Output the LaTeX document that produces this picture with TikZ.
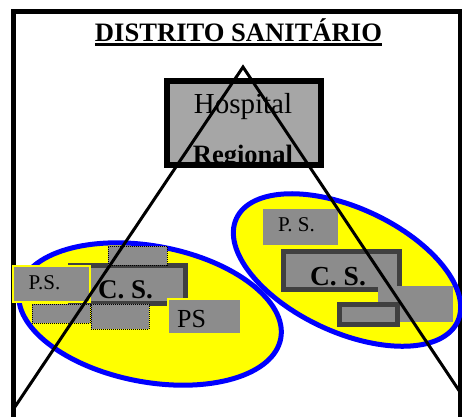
\documentclass[tikz,border=0pt]{standalone}
\usepackage{fontspec}
\setmainfont{Liberation Serif}
\usetikzlibrary{shapes.geometric}
\definecolor{boxgray}{RGB}{140,140,140}
\definecolor{hospgray}{RGB}{166,166,166}
\definecolor{darkb}{RGB}{64,64,64}
\definecolor{ellblue}{RGB}{0,0,255}
\definecolor{ellyellow}{RGB}{255,255,0}
\begin{document}
\begin{tikzpicture}[x=1pt,y=-1pt,
  frameline/.style={line width=4.7pt, line join=miter},
  zone/.style={ellipse, draw=ellblue, fill=ellyellow, line width=5pt, inner sep=0pt},
  graybox/.style={rectangle, fill=boxgray, inner sep=0pt},
  psbox/.style={graybox, draw=ellyellow, line width=2pt},
  csbox/.style={graybox, draw=darkb, line width=5pt},
  dotbox/.style={graybox, draw=black, line width=0.8pt, dash pattern=on 1pt off 1pt},
  hospbox/.style={rectangle, fill=hospgray, inner sep=0pt},
  tri/.style={line width=3pt, line join=miter},
  txt/.style={anchor=base, inner sep=0pt, text=black}
]
\useasboundingbox (0,0) rectangle (462,416);
\fill[white] (0,0) rectangle (462,416);

% frame
\coordinate (fbl) at (13.3,418);
\coordinate (ftl) at (13.3,11.7);
\coordinate (ftr) at (460.5,11.7);
\coordinate (fbr) at (460.5,418);
\draw[frameline] (fbl) -- (ftl) -- (ftr) -- (fbr);

% title
\node[txt, font=\bfseries\fontsize{26.6}{30}\selectfont] (title) at (238.5,41) {DISTRITO SANITÁRIO};
\draw[line width=2.4pt] ([yshift=-3.6pt]title.base west) -- ([yshift=-3.6pt]title.base east);

% zones
\node[zone, minimum width=266pt, minimum height=136pt, rotate=-10.6] (zoneL) at (150,314) {};
\node[zone, minimum width=244pt, minimum height=124pt, rotate=-25] (zoneR) at (347,270) {};

% left group
\node[csbox, minimum width=115pt, minimum height=38pt] (csL) at (128,284.5) {};
\node[dotbox, minimum width=59pt, minimum height=19pt] (dotU) at (137.5,255.5) {};
\node[dotbox, minimum width=58pt, minimum height=19pt] (dotLL) at (61,313.5) {};
\node[dotbox, minimum width=58pt, minimum height=25pt] (dotLM) at (120,316.5) {};
\node[psbox, minimum width=77pt, minimum height=36pt] (psL) at (51.5,284) {};
\node[psbox, minimum width=73pt, minimum height=35pt] (psL2) at (204.5,316.5) {};
\node[txt, font=\bfseries\fontsize{27}{30}\selectfont] (csLt) at (125.5,298) {C. S.};
\node[txt, font=\fontsize{21}{24}\selectfont] (psLt) at (44.5,289) {P.S.};
\node[txt, font=\fontsize{26}{28}\selectfont] (psL2t) at (191.5,327) {PS};

% right group
\node[graybox, minimum width=75pt, minimum height=36pt] (psR) at (300.5,227) {};
\node[txt, font=\fontsize{21}{24}\selectfont] (psRt) at (296.5,231) {P. S.};
\node[csbox, minimum width=116pt, minimum height=38pt] (csR) at (341.5,270.5) {};
\node[txt, font=\bfseries\fontsize{27.5}{30}\selectfont] (csRt) at (338,285) {C. S.};
\node[graybox, minimum width=75pt, minimum height=36pt] (gR) at (415.5,304) {};
\node[csbox, minimum width=58pt, minimum height=20pt] (smR) at (368.5,314.5) {};

% hospital
\node[hospbox, minimum width=154pt, minimum height=84pt] (hosp) at (244,123) {};
\begin{scope}
  \clip (hosp.south west) rectangle (hosp.north east);
  \node[txt, font=\fontsize{29}{32}\selectfont] (hospt) at (243,113) {Hospital};
  \node[txt, font=\bfseries\fontsize{26.5}{30}\selectfont] (regt) at (243,163.5) {Regional};
\end{scope}
\draw[line width=6pt] (hosp.south west) rectangle (hosp.north east);

% triangle
\coordinate (apex) at (243,67);
\coordinate (tl) at (12.5,410.5);
\coordinate (tr) at (461,393.5);
\draw[tri] (tl) -- (apex) -- (tr);
\end{tikzpicture}
\end{document}
